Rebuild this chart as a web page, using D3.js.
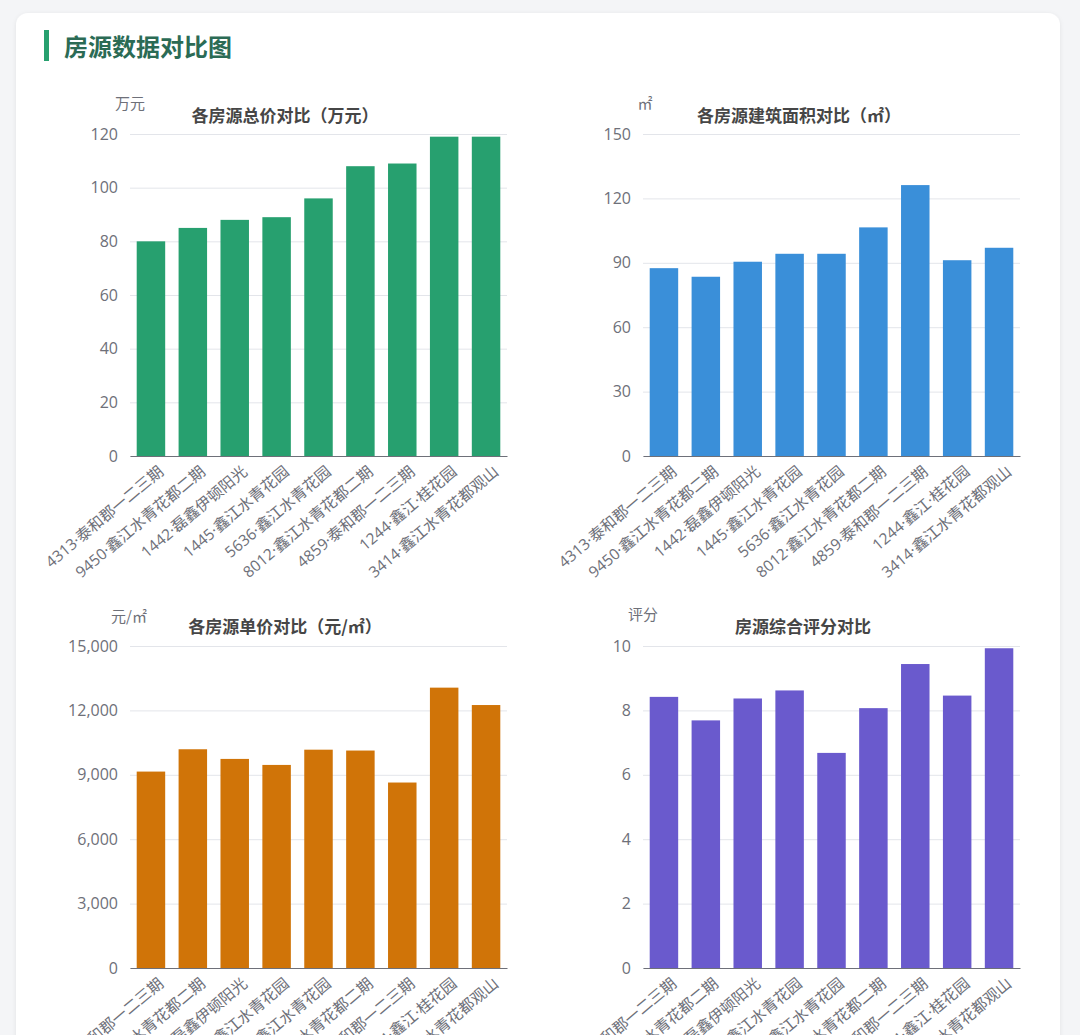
<!DOCTYPE html>
<html><head><meta charset="utf-8">
<script src="https://cdn.jsdelivr.net/npm/d3@7/dist/d3.min.js"></script>
<style>
html,body{margin:0;padding:0;background:#f4f5f7;}
svg{display:block;}
</style></head>
<body>
<svg id="c" width="1080" height="1035"></svg>
<script>
const categories = ["4313·泰和郡一二三期","9450·鑫江水青花都二期","1442·磊鑫伊顿阳光","1445·鑫江水青花园","5636·鑫江水青花园","8012·鑫江水青花都二期","4859·泰和郡一二三期","1244·鑫江·桂花园","3414·鑫江水青花都观山"];
const totalPrice = [80, 85, 88, 89, 96, 108, 109, 119, 119];
const area = [87.5, 83.5, 90.5, 94.2, 94.2, 106.5, 126.2, 91.2, 97];
const unitPrice = [9150, 10190, 9740, 9460, 10170, 10130, 8640, 13060, 12250];
const score = [8.42, 7.69, 8.37, 8.62, 6.68, 8.07, 9.44, 8.46, 9.93];
const ticksTotal = [0,20,40,60,80,100,120];
const ticksArea = [0,30,60,90,120,150];
const ticksUnit = [0,3000,6000,9000,12000,15000];
const ticksScore = [0,2,4,6,8,10];

const charts = [
  {title:"各房源总价对比（万元）", unit:"万元", values:totalPrice, ticks:ticksTotal, color:"#27a06f", x0:130, x1:507, y0:456, y1:134, tx:285, ty:116, ux:130, uy:104, fmt:d3.format("d")},
  {title:"各房源建筑面积对比（㎡）", unit:"㎡", values:area, ticks:ticksArea, color:"#3a8fd9", x0:643, x1:1020, y0:456, y1:134, tx:799, ty:116, ux:645, uy:104, fmt:d3.format("d")},
  {title:"各房源单价对比（元/㎡）", unit:"元/㎡", values:unitPrice, ticks:ticksUnit, color:"#d07408", x0:130, x1:507, y0:968, y1:646, tx:285, ty:627, ux:129, uy:617, fmt:d3.format(",")},
  {title:"房源综合评分对比", unit:"评分", values:score, ticks:ticksScore, color:"#6a5acd", x0:643, x1:1020, y0:968, y1:646, tx:803, ty:627, ux:643, uy:615, fmt:d3.format("d")}
];

const svg = d3.select("#c");
const FONT = "'Open Sans','Noto Sans CJK SC',sans-serif";
const CJK = "'Noto Sans CJK SC',sans-serif";

const defs = svg.append("defs");
const f = defs.append("filter").attr("id","sh").attr("x","-5%").attr("y","-5%").attr("width","110%").attr("height","110%");
f.append("feDropShadow").attr("dx",0).attr("dy",1).attr("stdDeviation",2).attr("flood-color","#000").attr("flood-opacity",0.08);

svg.append("rect").attr("x",16).attr("y",13).attr("width",1044).attr("height",1100).attr("rx",12)
  .attr("fill","#fff").attr("filter","url(#sh)");

// header
svg.append("rect").attr("x",44).attr("y",30).attr("width",5).attr("height",31).attr("fill","#27a06f");
svg.append("text").attr("x",64).attr("y",56).text("房源数据对比图")
  .attr("font-family",CJK).attr("font-size",24).attr("font-weight",700).attr("fill","#2b6b55");

charts.forEach(c => {
  const g = svg.append("g");
  const x = d3.scaleBand().domain(categories).range([c.x0, c.x1]).paddingInner(0.32).paddingOuter(0.16);
  const maxV = c.ticks[c.ticks.length-1];
  const y = d3.scaleLinear().domain([0, maxV]).range([c.y0, c.y1]);

  // grid
  const yAxis = d3.axisLeft(y).tickValues(c.ticks).tickSize(-(c.x1-c.x0)).tickPadding(12).tickFormat(c.fmt);
  const ga = g.append("g").attr("transform",`translate(${c.x0},0)`).call(yAxis);
  ga.select(".domain").remove();
  ga.selectAll(".tick line").attr("stroke","#e3e5ea").attr("stroke-width",1);
  ga.selectAll(".tick text").attr("font-family",FONT).attr("font-size",16).attr("fill","#6e7079");

  // bars
  g.selectAll("rect.bar").data(c.values).join("rect").attr("class","bar")
    .attr("x",(d,i)=>x(categories[i])).attr("width",x.bandwidth())
    .attr("y",d=>y(d)).attr("height",d=>c.y0-y(d)).attr("fill",c.color);

  // x axis
  const xAxis = d3.axisBottom(x).tickSize(0).tickPadding(8);
  const gx = g.append("g").attr("transform",`translate(0,${c.y0})`).call(xAxis);
  gx.select(".domain").attr("stroke","#6e7079").attr("stroke-width",1.2);
  gx.selectAll(".tick text").attr("font-family",FONT).attr("font-size",15.5).attr("fill","#6e7079")
    .attr("text-anchor","end").attr("dy","0.35em")
    .attr("transform","translate(5,7) rotate(-40)");

  // title
  g.append("text").attr("x",c.tx).attr("y",c.ty+6).attr("text-anchor","middle").text(c.title)
    .attr("font-family",CJK).attr("font-size",17).attr("font-weight",700).attr("fill","#464646");
  // unit
  g.append("text").attr("x",c.ux).attr("y",c.uy+5).attr("text-anchor","middle").text(c.unit)
    .attr("font-family",CJK).attr("font-size",15).attr("fill","#6e7079");
});
</script>
</body></html>
